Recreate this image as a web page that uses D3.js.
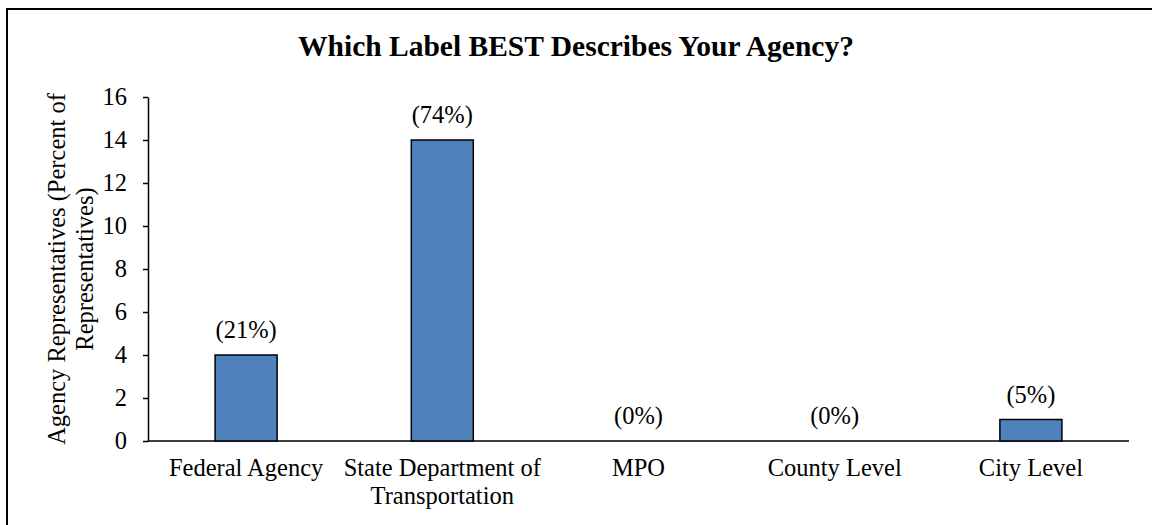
<!DOCTYPE html>
<html lang="en">
<head>
  <meta charset="UTF-8">
  <title>Which Label BEST Describes Your Agency?</title>
  <script src="https://d3js.org/d3.v7.min.js"></script>
  <style>
    body { margin: 0; background: #fff; }
    svg { font-family: "Liberation Serif", "Times New Roman", serif; }
  </style>
</head>
<body>
  <div id="chart"></div>
  <script>
    // chart data
    const categories = [["Federal Agency"], ["State Department of", "Transportation"], ["MPO"], ["County Level"], ["City Level"]];
    const counts = [4, 14, 0, 0, 1];
    const pctLabels = ["(21%)", "(74%)", "(0%)", "(0%)", "(5%)"];
    const yTicks = [0, 2, 4, 6, 8, 10, 12, 14, 16];

    const width = 1152, height = 525;
    const margin = { top: 97, right: 23, bottom: 84, left: 148 };
    const fs = 24.5;

    const svg = d3.select("#chart").append("svg")
      .attr("width", width)
      .attr("height", height);

    // outer frame
    svg.append("rect")
      .attr("x", 7).attr("y", 9)
      .attr("width", width).attr("height", height)
      .attr("fill", "none").attr("stroke", "#000").attr("stroke-width", 2);

    svg.append("text")
      .attr("x", 576).attr("y", 56)
      .attr("text-anchor", "middle")
      .attr("font-size", 29.5).attr("font-weight", "bold")
      .text("Which Label BEST Describes Your Agency?");

    const idx = d3.range(categories.length);
    const x = d3.scaleBand()
      .domain(idx)
      .range([margin.left, width - margin.right])
      .paddingInner(0.684).paddingOuter(0.342);

    const y = d3.scaleLinear()
      .domain([0, 16])
      .range([height - margin.bottom, margin.top]);

    // y axis
    const yAxis = svg.append("g")
      .attr("transform", `translate(${margin.left},0)`)
      .call(d3.axisLeft(y).tickValues(yTicks).tickSize(5).tickSizeOuter(0).tickPadding(16));
    yAxis.select(".domain").attr("stroke-width", 1.5);
    yAxis.selectAll(".tick line").attr("stroke-width", 1.5);
    yAxis.selectAll("text").attr("font-size", fs).attr("font-family", "Liberation Serif, serif").attr("fill", "#000");

    // x axis line
    svg.append("line")
      .attr("x1", margin.left).attr("x2", width - margin.right)
      .attr("y1", y(0)).attr("y2", y(0))
      .attr("stroke", "#000").attr("stroke-width", 1.5);

    // bars
    svg.selectAll("rect.bar")
      .data(counts)
      .join("rect")
      .attr("class", "bar")
      .attr("x", (d, i) => x(i))
      .attr("y", d => y(d))
      .attr("width", x.bandwidth())
      .attr("height", d => y(0) - y(d))
      .attr("fill", "#4F81BD")
      .attr("stroke", "#000")
      .attr("stroke-width", 1.5)
      .attr("display", d => d > 0 ? null : "none");

    // value labels
    svg.selectAll("text.val")
      .data(counts)
      .join("text")
      .attr("class", "val")
      .attr("x", (d, i) => x(i) + x.bandwidth() / 2)
      .attr("y", d => y(d) - 17)
      .attr("text-anchor", "middle")
      .attr("font-size", fs)
      .text((d, i) => pctLabels[i]);

    // category labels
    const cat = svg.selectAll("text.cat")
      .data(categories)
      .join("text")
      .attr("class", "cat")
      .attr("text-anchor", "middle")
      .attr("font-size", fs)
      .attr("x", (d, i) => x(i) + x.bandwidth() / 2)
      .attr("y", y(0) + 35);
    cat.selectAll("tspan")
      .data(d => d)
      .join("tspan")
      .attr("x", function () { return this.parentNode.getAttribute("x"); })
      .attr("dy", (d, i) => i === 0 ? 0 : 28)
      .text(d => d);

    // y axis title
    const yTitle = svg.append("text")
      .attr("transform", `translate(65,${(y(0) + y(16)) / 2}) rotate(-90)`)
      .attr("text-anchor", "middle")
      .attr("font-size", fs);
    yTitle.append("tspan").attr("x", 0).attr("dy", 0).text("Agency Representatives (Percent of");
    yTitle.append("tspan").attr("x", 0).attr("dy", 28).text("Representatives)");
  </script>
</body>
</html>
